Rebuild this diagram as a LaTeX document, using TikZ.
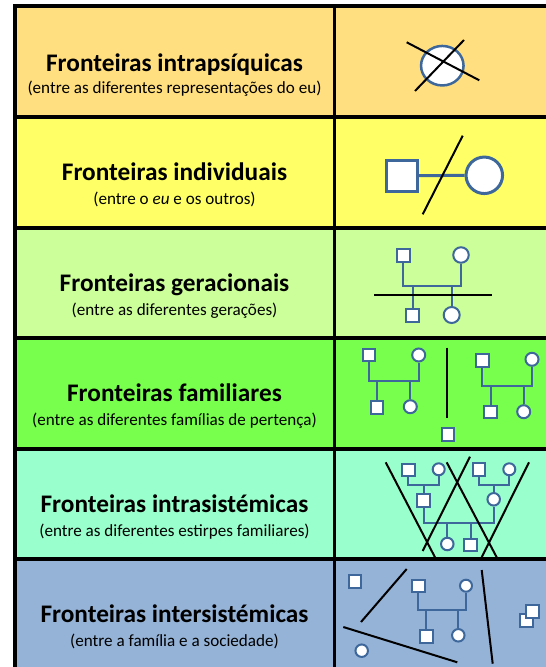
\documentclass[tikz,border=0pt]{standalone}
\usepackage{fontspec}
\setmainfont{Carlito}
\usetikzlibrary{shapes.geometric}
\definecolor{rowA}{RGB}{255,223,127}
\definecolor{rowB}{RGB}{255,255,102}
\definecolor{rowC}{RGB}{204,255,153}
\definecolor{rowD}{RGB}{120,255,77}
\definecolor{rowE}{RGB}{153,255,204}
\definecolor{rowF}{RGB}{149,179,215}
\definecolor{pblue}{RGB}{62,104,155}
\tikzset{
  ttl/.style={anchor=base, font=\fontsize{25.3}{29}\selectfont\bfseries},
  sub/.style={anchor=base, font=\fontsize{17.1}{20}\selectfont},
  grid/.style={line width=3.8pt, black},
  bline/.style={line width=2pt, black},
  plink/.style={draw=pblue, line width=2pt},
  sq/.style={draw=pblue, fill=white, line width=2pt, rectangle, inner sep=0pt, minimum size=12.7pt},
  ci/.style={draw=pblue, fill=white, line width=2pt, circle, inner sep=0pt, minimum size=13pt},
}
\begin{document}
\begin{tikzpicture}[x=1pt,y=-1pt]
\useasboundingbox (0,0) rectangle (546,667);
\clip (0,0) rectangle (546,667);
% row fills
\fill[rowA] (15,6) rectangle (560,117);
\fill[rowB] (15,117) rectangle (560,228);
\fill[rowC] (15,228) rectangle (560,338);
\fill[rowD] (15,338) rectangle (560,449);
\fill[rowE] (15,449) rectangle (560,559);
\fill[rowF] (15,559) rectangle (560,680);
% texts
\node[ttl] (t1) at (174.5,71) {Fronteiras intrapsíquicas};
\node[sub] (s1) at (174.5,93) {(entre as diferentes representações do eu)};
\node[ttl] (t2) at (174.5,180) {Fronteiras individuais};
\node[sub] (s2) at (174.5,204) {(entre o \textit{eu} e os outros)};
\node[ttl] (t3) at (174.5,291) {Fronteiras geracionais};
\node[sub] (s3) at (174.5,315) {(entre as diferentes gerações)};
\node[ttl] (t4) at (174.5,401) {Fronteiras familiares};
\node[sub] (s4) at (174.5,425) {(entre as diferentes famílias de pertença)};
\node[ttl] (t5) at (174.5,512) {Fronteiras intrasistémicas};
\node[sub] (s5) at (174.5,536) {(entre as diferentes estirpes familiares)};
\node[ttl] (t6) at (174.5,622) {Fronteiras intersistémicas};
\node[sub] (s6) at (174.5,646) {(entre a família e a sociedade)};

% ---- row 1: intrapsychic
\node[ellipse, draw=pblue, fill=white, line width=2.5pt, minimum width=42.5pt, minimum height=39.5pt, inner sep=0pt] (self) at (442.3,65.7) {};
\coordinate (x1a) at (406.7,42.3); \coordinate (x1b) at (479.3,80.3);
\coordinate (x2a) at (415,91); \coordinate (x2b) at (464,40);
\draw[bline] (x1a) -- (x1b);
\draw[bline] (x2a) -- (x2b);

% ---- row 2: individual
\node[sq, line width=3pt, minimum size=31pt] (i1) at (402,175.7) {};
\node[ci, line width=3pt, minimum size=36.5pt] (i2) at (484.3,175.3) {};
\draw[plink, line width=3pt] (i1) -- (i2);
\coordinate (sl2a) at (462.7,135.7); \coordinate (sl2b) at (422.7,214.3);
\draw[bline] (sl2a) -- (sl2b);

% ---- row 3: generational
\begin{scope}[every node/.append style={line width=2.2pt, minimum size=14.5pt}]
\node[sq] (g1) at (403.3,255.3) {};
\node[ci, minimum size=15.5pt] (g2) at (461,255) {};
\node[sq] (g3) at (412.7,315.8) {};
\node[ci, minimum size=16pt] (g4) at (451.7,315) {};
\end{scope}
\coordinate (gh) at (0,286);
\draw[plink, line width=2.2pt] (g1.south) -- (g1.south |- gh) -| (g2.south);
\draw[plink, line width=2.2pt] (g3.north) -- (g3.north |- gh);
\draw[plink, line width=2.2pt] (g4.north) -- (g4.north |- gh);
\coordinate (gl1) at (374,295); \coordinate (gl2) at (492,295);
\draw[bline] (gl1) -- (gl2);

% ---- row 4: families
\node[sq] (fa1) at (369,355) {};
\node[ci] (fa2) at (418.7,355) {};
\node[sq] (fa3) at (377,407.7) {};
\node[ci] (fa4) at (410.3,406.7) {};
\coordinate (fah) at (0,380.7);
\draw[plink] (fa1.south) -- (fa1.south |- fah) -| (fa2.south);
\draw[plink] (fa3.north) -- (fa3.north |- fah);
\draw[plink] (fa4.north) -- (fa4.north |- fah);
\node[sq] (fb1) at (482.3,360.5) {};
\node[ci] (fb2) at (532,359.3) {};
\node[sq] (fb3) at (490.5,412) {};
\node[ci] (fb4) at (523.7,411.7) {};
\coordinate (fbh) at (0,385.7);
\draw[plink] (fb1.south) -- (fb1.south |- fbh) -| (fb2.south);
\draw[plink] (fb3.north) -- (fb3.north |- fbh);
\draw[plink] (fb4.north) -- (fb4.north |- fbh);
\coordinate (fv1) at (446.7,347.7); \coordinate (fv2) at (446.7,418.3);
\draw[bline] (fv1) -- (fv2);
\node[sq] (fx) at (448,434.5) {};

% ---- row 5: intrasystemic
\begin{scope}[every node/.append style={line width=1.8pt, minimum size=11.4pt}]
\node[sq] (ea1) at (408.3,470) {};
\node[ci, minimum size=12pt] (ea2) at (438.7,469.3) {};
\node[sq] (ea3) at (423.7,500.3) {};
\node[sq] (eb1) at (479,469.7) {};
\node[ci, minimum size=12pt] (eb2) at (509.3,469.3) {};
\node[ci, minimum size=12.5pt] (eb3) at (493.7,499.3) {};
\node[ci, minimum size=12.5pt] (ec1) at (447.3,544) {};
\node[sq] (ec2) at (470.7,545) {};
\end{scope}
\coordinate (eah) at (0,485);
\coordinate (ech) at (0,522.7);
\draw[plink, line width=1.8pt] (ea1.south) -- (ea1.south |- eah) -| (ea2.south);
\draw[plink, line width=1.8pt] (ea3.north) -- (ea3.north |- eah);
\draw[plink, line width=1.8pt] (eb1.south) -- (eb1.south |- eah) -| (eb2.south);
\draw[plink, line width=1.8pt] (eb3.north) -- (eb3.north |- eah);
\draw[plink, line width=1.8pt] (ea3.south) -- (ea3.south |- ech) -| (eb3.south);
\draw[plink, line width=1.8pt] (ec1.north) -- (ec1.north |- ech);
\draw[plink, line width=1.8pt] (ec2.north) -- (ec2.north |- ech);
\coordinate (ela1) at (385.7,462.3); \coordinate (ela2) at (435,557.3);
\coordinate (elb1) at (470,456.7); \coordinate (elb2) at (422.7,551);
\coordinate (elc1) at (446.7,462.3); \coordinate (elc2) at (496.7,557.3);
\coordinate (eld1) at (529,462.3); \coordinate (eld2) at (481.7,557.3);
\draw[bline] (ela1) -- (ela2);
\draw[bline] (elb1) -- (elb2);
\draw[bline] (elc1) -- (elc2);
\draw[bline] (eld1) -- (eld2);

% ---- row 6: intersystemic
\begin{scope}[every node/.append style={minimum size=11.5pt}]
\node[sq] (xs) at (355,581.8) {};
\node[ci, minimum size=12.5pt] (xc) at (361.7,650.7) {};
\node[sq] (xf1) at (418.3,586) {};
\node[ci, minimum size=12pt] (xf2) at (466,585.7) {};
\node[sq] (xf3) at (426.3,636.7) {};
\node[ci, minimum size=12.5pt] (xf4) at (458.3,635.3) {};
\node[sq, minimum size=13pt] (xd1) at (526,620.5) {};
\node[sq, minimum size=12.5pt] (xd2) at (532.7,611.7) {};
\end{scope}
\coordinate (xh) at (0,610.3);
\draw[plink] (xf1.south) -- (xf1.south |- xh) -| (xf2.south);
\draw[plink] (xf3.north) -- (xf3.north |- xh);
\draw[plink] (xf4.north) -- (xf4.north |- xh);
\coordinate (xl1a) at (406.7,569); \coordinate (xl1b) at (361,622);
\coordinate (xl2a) at (343.3,627); \coordinate (xl2b) at (457.3,662.3);
\coordinate (xl3a) at (481.7,570); \coordinate (xl3b) at (492.7,663.7);
\draw[bline] (xl1a) -- (xl1b);
\draw[bline] (xl2a) -- (xl2b);
\draw[bline] (xl3a) -- (xl3b);

% ---- grid lines
\draw[grid] (13,6) -- (560,6);
\foreach \yy in {117,228,338,449,559} \draw[grid] (13,\yy) -- (560,\yy);
\draw[grid] (15,4) -- (15,680);
\draw[grid] (334.5,4) -- (334.5,680);
\end{tikzpicture}
\end{document}
